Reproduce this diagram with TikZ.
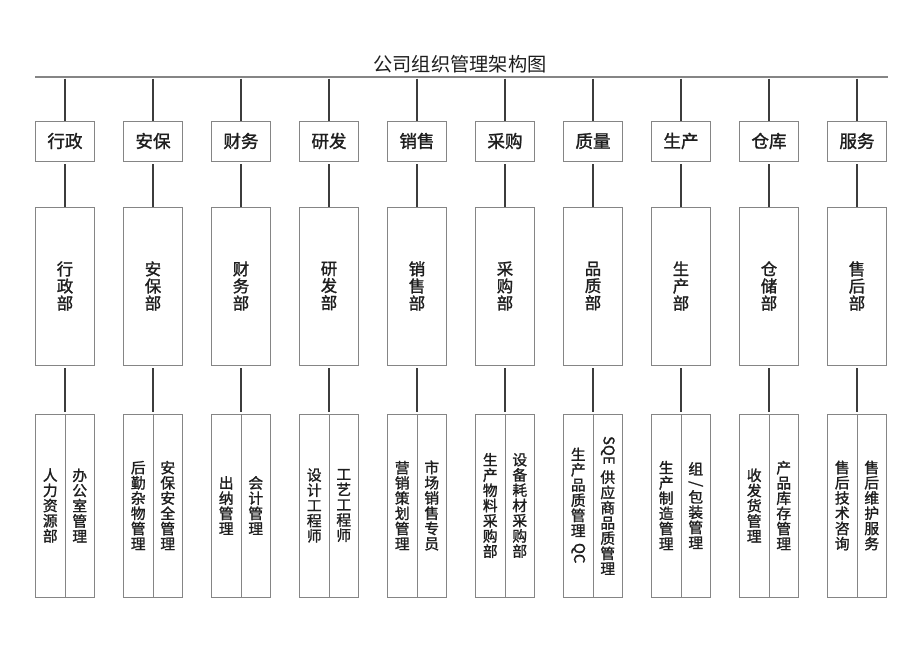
\documentclass[tikz,border=0pt]{standalone}
\usepackage{fontspec}
\newfontfamily\cjk{Noto Sans CJK SC}
\newfontfamily\cjkm{Noto Sans CJK SC}[FakeBold=1.4]
\usetikzlibrary{positioning,calc}
\definecolor{orgink}{HTML}{1E1E1E}
\definecolor{orgline}{HTML}{3C3C3C}
\definecolor{orgframe}{HTML}{858585}
\newcommand\vlatin[1]{\rotatebox[origin=c]{-90}{#1}}

\begin{document}
\begin{tikzpicture}[x=0.3mm,y=-0.3mm,line cap=butt,
  font=\cjk,text=orgink,
  head/.style={draw=orgframe,line width=0.8pt,minimum width=17.7mm,minimum height=12mm,
    inner sep=0pt,outer sep=0pt,font=\cjkm\fontsize{15}{15}\selectfont},
  unit/.style={draw=orgframe,line width=0.8pt,minimum width=17.7mm,minimum height=47.4mm,
    inner sep=0pt,outer sep=0pt,align=center,font=\cjkm\fontsize{14}{14.6}\selectfont},
  sub/.style={draw=orgframe,line width=0.8pt,minimum width=8.85mm,minimum height=54.9mm,
    inner sep=0pt,outer sep=0pt,align=center,font=\cjkm\fontsize{12.6}{13}\selectfont},
  link/.style={draw=orgline,line width=0.9pt}]
\path[use as bounding box] (0,0) rectangle (920,651);
\fill[white] (0,0) rectangle (920,651);

% 标题与总线
\node[font=\cjk\fontsize{16.4}{16.4}\selectfont] (title) at (460,64) {公司组织管理架构图};
\coordinate (busL) at (35,77);
\coordinate (busR) at (888,77);
\draw[draw=orgframe,line width=0.9pt] (busL) -- (busR);

% 十个部门：顶框、部门框、下属岗位
\foreach \hd/\un/\lt/\rt [count=\i from 0] in {
  {行政}/{行\\政\\部}/{人\\力\\资\\源\\部}/{办\\公\\室\\管\\理},
  {安保}/{安\\保\\部}/{后\\勤\\杂\\物\\管\\理}/{安\\保\\安\\全\\管\\理},
  {财务}/{财\\务\\部}/{出\\纳\\管\\理}/{会\\计\\管\\理},
  {研发}/{研\\发\\部}/{设\\计\\工\\程\\师}/{工\\艺\\工\\程\\师},
  {销售}/{销\\售\\部}/{营\\销\\策\\划\\管\\理}/{市\\场\\销\\售\\专\\员},
  {采购}/{采\\购\\部}/{生\\产\\物\\料\\采\\购\\部}/{设\\备\\耗\\材\\采\\购\\部},
  {质量}/{品\\质\\部}/{生\\产\\品\\质\\管\\理\\[5pt]\vlatin{QC}}/{\vlatin{SQE}\\[4pt]供\\应\\商\\品\\质\\管\\理},
  {生产}/{生\\产\\部}/{生\\产\\制\\造\\管\\理}/{组\\[-1pt]\vlatin{\char`\/}\\[-1pt]包\\装\\管\\理},
  {仓库}/{仓\\储\\部}/{收\\发\\货\\管\\理}/{产\\品\\库\\存\\管\\理},
  {服务}/{售\\后\\部}/{售\\后\\技\\术\\咨\\询}/{售\\后\\维\\护\\服\\务}}
{
  \pgfmathsetmacro\cx{65+88*\i}
  \coordinate (bus\i) at (\cx,77);
  \node[head] (head\i) at (\cx,141) {\hd};
  \node[unit,below=13.8mm of head\i] (unit\i) {\un};
  \node[sub,below left=14.7mm and 0pt of unit\i.south] (subl\i) {\lt};
  \node[sub,right=0pt of subl\i] (subr\i) {\rt};
  \draw[link,shorten <=0.5mm] (bus\i) -- (head\i);
  \draw[link,shorten <=1mm] (head\i) -- (unit\i);
  \draw[link,shorten <=1mm,shorten >=0.5mm] (unit\i) -- (subl\i.north east);
}
\end{tikzpicture}
\end{document}
